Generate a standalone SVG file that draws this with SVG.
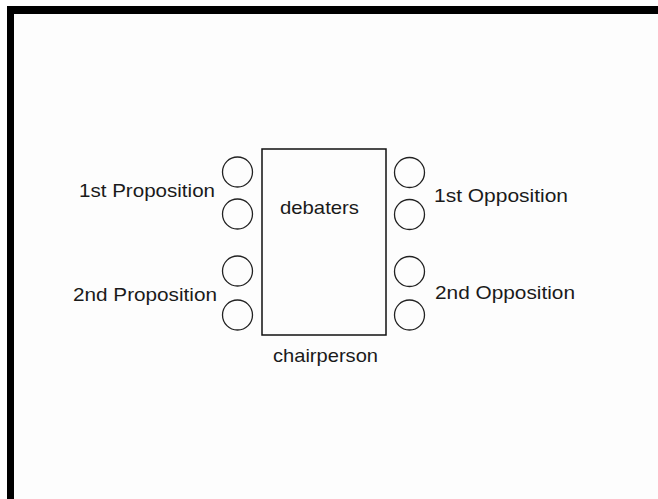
<svg xmlns="http://www.w3.org/2000/svg" width="658" height="499" viewBox="0 0 658 499">
<style>
.seat{fill:none;stroke:#222;stroke-width:1.3}
.lbl{font-family:"Liberation Sans",Arial,sans-serif;font-size:18.5px;fill:#1a1a1a}
.tbl{fill:none;stroke:#111;stroke-width:1.5}
</style>
<rect x="0" y="0" width="658" height="499" fill="#ffffff"/>
<rect x="14" y="14" width="644" height="485" fill="#fdfdfd"/>
<rect x="7" y="6" width="651" height="8" fill="#000"/>
<rect x="7" y="6" width="7" height="493" fill="#000"/>
<g id="table">
<rect class="tbl" x="262" y="149" width="124" height="186"/>
<text class="lbl" x="280" y="214" textLength="79" lengthAdjust="spacingAndGlyphs">debaters</text>
</g>
<g id="chairperson">
<text class="lbl" x="273" y="362" textLength="105" lengthAdjust="spacingAndGlyphs">chairperson</text>
</g>
<g id="prop1">
<circle class="seat" cx="237.5" cy="172" r="15"/>
<circle class="seat" cx="237.5" cy="214" r="15"/>
<text class="lbl" x="79" y="197" textLength="136" lengthAdjust="spacingAndGlyphs">1st Proposition</text>
</g>
<g id="prop2">
<circle class="seat" cx="237.5" cy="271" r="15"/>
<circle class="seat" cx="237.5" cy="315" r="15"/>
<text class="lbl" x="73" y="301" textLength="144" lengthAdjust="spacingAndGlyphs">2nd Proposition</text>
</g>
<g id="opp1">
<circle class="seat" cx="409.5" cy="172.5" r="15"/>
<circle class="seat" cx="409.5" cy="214.5" r="15"/>
<text class="lbl" x="434" y="202" textLength="134" lengthAdjust="spacingAndGlyphs">1st Opposition</text>
</g>
<g id="opp2">
<circle class="seat" cx="409.5" cy="271.5" r="15"/>
<circle class="seat" cx="409.5" cy="315" r="15"/>
<text class="lbl" x="435" y="299" textLength="140" lengthAdjust="spacingAndGlyphs">2nd Opposition</text>
</g>
<g id="connectors"/>
</svg>
